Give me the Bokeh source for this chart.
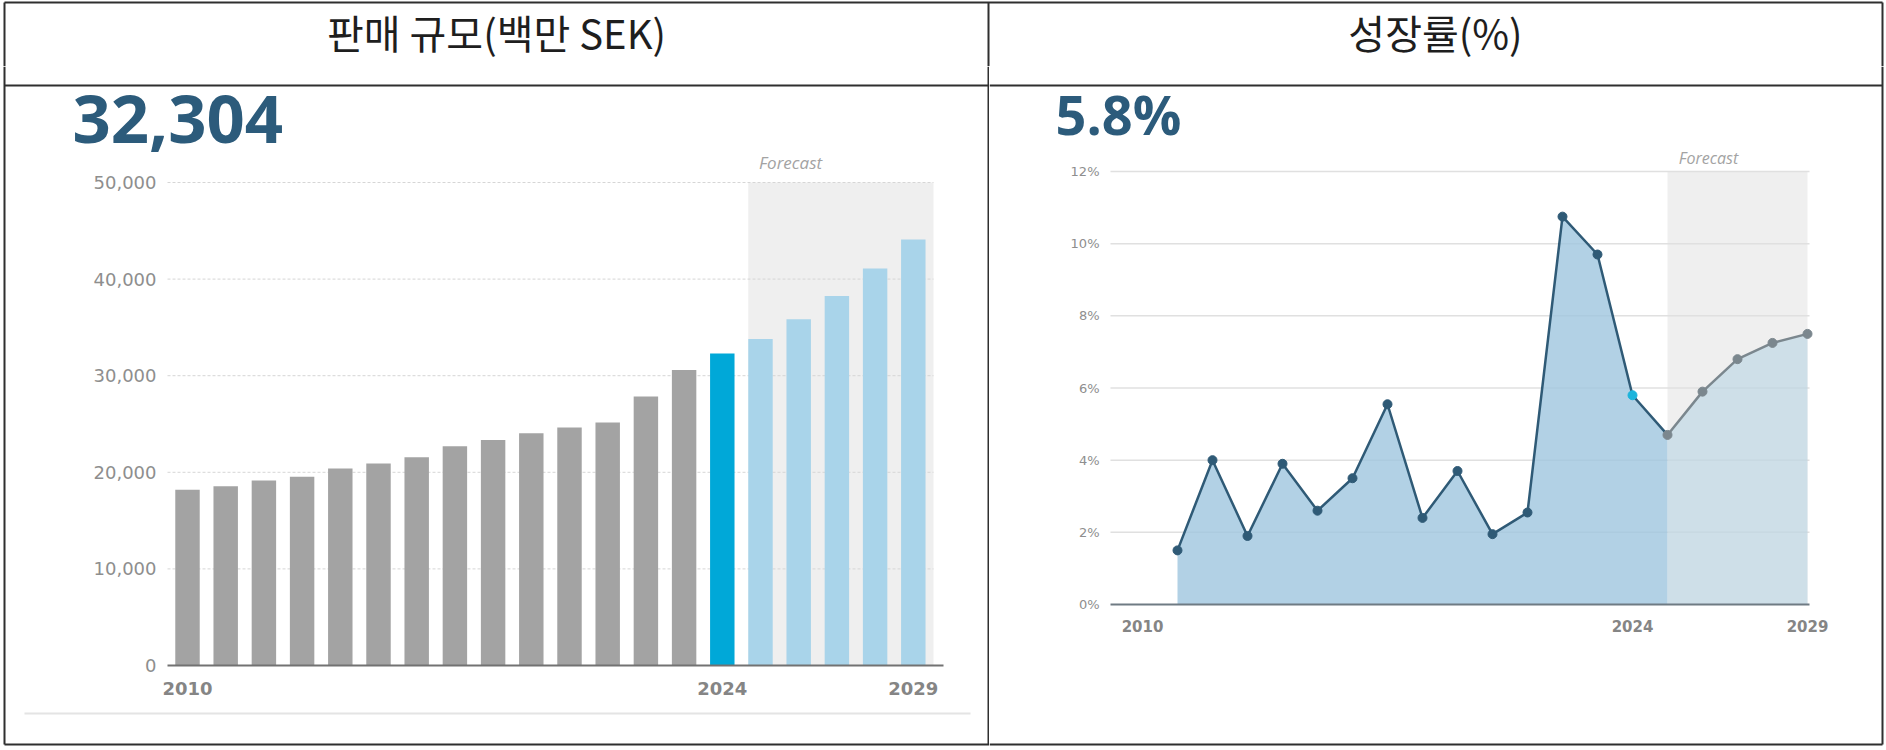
from bokeh.plotting import figure
from bokeh.layouts import column, row
from bokeh.models import Range1d, LinearAxis, FixedTicker, Label
from bokeh.embed import file_html
from bokeh.resources import INLINE

# ---------------- data ----------------
titles = ["판매 규모(백만 SEK)", "성장률(%)"]

sales_years = [2010, 2011, 2012, 2013, 2014, 2015, 2016, 2017, 2018, 2019,
               2020, 2021, 2022, 2023, 2024, 2025, 2026, 2027, 2028, 2029]
sales_values = [18200, 18550, 19150, 19550, 20400, 20900, 21550, 22700, 23350, 24050,
                24650, 25150, 27850, 30600, 32304, 33800, 35850, 38250, 41100, 44100]
sales_headline = "32,304"
sales_yticks = [0, 10000, 20000, 30000, 40000, 50000]
sales_ytick_labels = ["0", "10,000", "20,000", "30,000", "40,000", "50,000"]

growth_years = [2011, 2012, 2013, 2014, 2015, 2016, 2017, 2018, 2019, 2020,
                2021, 2022, 2023, 2024, 2025, 2026, 2027, 2028, 2029]
growth_values = [1.5, 4.0, 1.9, 3.9, 2.6, 3.5, 5.55, 2.4, 3.7, 1.95,
                 2.55, 10.75, 9.7, 5.8, 4.7, 5.9, 6.8, 7.25, 7.5]
growth_headline = "5.8%"
growth_yticks = [0, 2, 4, 6, 8, 10, 12]
growth_ytick_labels = ["0%", "2%", "4%", "6%", "8%", "10%", "12%"]

xtick_years = [2010, 2024, 2029]
xtick_labels = ["2010", "2024", "2029"]
last_actual_year = 2024
forecast_label = "Forecast"

# ---------------- layout / style ----------------
W, H = 1886, 750
HEAD_H = 66
LW = 989
RW = W - LW
CH = H - HEAD_H
SEP_Y = 85

BORDER = "#2f2f2f"
TICK_FONT = "DejaVu Sans"
HEAD_COLOR = "#2c5b7b"


def make_fig(ox, oy, w, h, xref, xpx, kx, yref, ypx, ky):
    fx = lambda px: xref + (px - xpx) / kx
    fy = lambda py: yref + (ypx - py) / ky
    p = figure(width=w, height=h,
               x_range=Range1d(fx(ox), fx(ox + w)),
               y_range=Range1d(fy(oy + h), fy(oy)),
               x_axis_location=None, y_axis_location=None,
               toolbar_location=None, output_backend="svg",
               min_border=0, min_border_left=0, min_border_right=0,
               min_border_top=0, min_border_bottom=0)
    p.outline_line_color = None
    p.background_fill_color = "white"
    p.border_fill_color = "white"
    p.grid.visible = False
    return p, fx, fy


def seg(p, fx, fy, pts, color=BORDER, width=2):
    p.segment(x0=[fx(a[0]) for a in pts], y0=[fy(a[1]) for a in pts],
              x1=[fx(a[2]) for a in pts], y1=[fy(a[3]) for a in pts],
              line_color=color, line_width=width)


# ---------------- header ----------------
ph, hx, hy = make_fig(0, 0, W, HEAD_H, 0, 0, 1, 0, 0, -1)
seg(ph, hx, hy, [(4, 2, 1882, 2), (4, 2, 4, HEAD_H), (1882, 2, 1882, HEAD_H),
                 (988, 2, 988, HEAD_H)])
for t, cx in zip(titles, [496, 1435]):
    ph.add_layout(Label(x=hx(cx), y=hy(31), text=t, text_align="center",
                        text_baseline="middle", text_font="Noto Sans CJK KR",
                        text_font_size="40px", text_color="#1e1e1e"))

# ---------------- left: sales bars ----------------
pl, lx, ly = make_fig(0, HEAD_H, LW, CH, 2010, 187, 38.2, 0, 665, 96.6 / 10000)
seg(pl, lx, ly, [(4, HEAD_H, 4, 744), (4, 744, LW, 744), (988, HEAD_H, 988, 744),
                 (4, SEP_Y, LW, SEP_Y)])

bar_w = 0.64
pl.quad(left=[last_actual_year + 1 - bar_w / 2], right=[lx(933)],
        bottom=[0], top=[sales_yticks[-1]], fill_color="#efefef", line_color=None)

grid_l = sales_yticks[1:]
pl.segment(x0=[lx(167)] * len(grid_l), x1=[lx(933)] * len(grid_l), y0=grid_l, y1=grid_l,
           line_color="#d6d6d6", line_dash="3 2", line_width=1)

bar_colors = ["#a3a3a3" if y < last_actual_year else ("#00a8d8" if y == last_actual_year else "#a9d4ea")
              for y in sales_years]
pl.vbar(x=sales_years, top=sales_values, width=bar_w, fill_color=bar_colors, line_color=None)

seg(pl, lx, ly, [(24, 713, 970, 713)], color="#e4e4e4", width=2)

yax_l = LinearAxis(ticker=FixedTicker(ticks=sales_yticks),
                   major_label_overrides={t: s for t, s in zip(sales_yticks, sales_ytick_labels)},
                   fixed_location=lx(167), axis_line_color=None,
                   major_tick_line_color=None, minor_tick_line_color=None,
                   major_label_standoff=5, major_label_text_font=TICK_FONT,
                   major_label_text_font_size="18px", major_label_text_color="#8e8e8e")
pl.add_layout(yax_l, "left")
xax_l = LinearAxis(ticker=FixedTicker(ticks=xtick_years),
                   major_label_overrides={t: s for t, s in zip(xtick_years, xtick_labels)},
                   fixed_location=0, bounds=(lx(167), lx(943)),
                   axis_line_color="#727272", axis_line_width=2,
                   major_tick_line_color=None, minor_tick_line_color=None,
                   major_label_standoff=10, major_label_text_font=TICK_FONT,
                   major_label_text_font_size="18px", major_label_text_color="#858585",
                   major_label_text_font_style="bold")
pl.add_layout(xax_l, "below")

pl.add_layout(Label(x=lx(72), y=ly(119), text=sales_headline, text_align="left",
                    text_baseline="alphabetic", text_font="Open Sans", text_font_style="bold",
                    text_font_size="67px", text_color=HEAD_COLOR))
pl.add_layout(Label(x=lx(790), y=ly(162), text=forecast_label, text_align="center",
                    text_baseline="middle", text_font="Open Sans", text_font_style="italic",
                    text_font_size="17px", text_color="#a3a3a3"))

# ---------------- right: growth area ----------------
pr, rx, ry = make_fig(LW, HEAD_H, RW, CH, 2010, 1142, 35.0, 0, 604, 36.08)
seg(pr, rx, ry, [(LW, 744, 1882, 744), (1882, HEAD_H, 1882, 744), (LW, SEP_Y, 1882, SEP_Y)])

pr.quad(left=[last_actual_year + 1], right=[growth_years[-1]], bottom=[0],
        top=[growth_yticks[-1]], fill_color="#efefef", line_color=None)
grid_r = growth_yticks[1:]
pr.segment(x0=[rx(1110)] * len(grid_r), x1=[rx(1809)] * len(grid_r), y0=grid_r, y1=grid_r,
           line_color="#e0e0e0", line_width=1.5)

split = growth_years.index(last_actual_year + 1)
hist_x, hist_y = growth_years[:split + 1], growth_values[:split + 1]
fc_x, fc_y = growth_years[split:], growth_values[split:]

pr.varea(x=hist_x, y1=[0] * len(hist_x), y2=hist_y, fill_color="#9fc6de", fill_alpha=0.8)
pr.varea(x=fc_x, y1=[0] * len(fc_x), y2=fc_y, fill_color="#b8d3e3", fill_alpha=0.6)

pr.line(x=hist_x, y=hist_y, line_color="#2f5a76", line_width=2.5)
pr.line(x=fc_x, y=fc_y, line_color="#7b878e", line_width=2.5)

mk_colors = ["#2f5a76" if y < last_actual_year else ("#1cb4dc" if y == last_actual_year else "#7b878e")
             for y in growth_years]
pr.scatter(x=growth_years, y=growth_values, size=9, fill_color=mk_colors, line_color=mk_colors)

yax_r = LinearAxis(ticker=FixedTicker(ticks=growth_yticks),
                   major_label_overrides={t: s for t, s in zip(growth_yticks, growth_ytick_labels)},
                   fixed_location=rx(1110), axis_line_color=None,
                   major_tick_line_color=None, minor_tick_line_color=None,
                   major_label_standoff=5, major_label_text_font=TICK_FONT,
                   major_label_text_font_size="13px", major_label_text_color="#8e8e8e")
pr.add_layout(yax_r, "left")
xax_r = LinearAxis(ticker=FixedTicker(ticks=xtick_years),
                   major_label_overrides={t: s for t, s in zip(xtick_years, xtick_labels)},
                   fixed_location=0, bounds=(rx(1110), rx(1809)),
                   axis_line_color="#6f7b83", axis_line_width=2,
                   major_tick_line_color=None, minor_tick_line_color=None,
                   major_label_standoff=9, major_label_text_font=TICK_FONT,
                   major_label_text_font_size="15px", major_label_text_color="#858585",
                   major_label_text_font_style="bold")
pr.add_layout(xax_r, "below")

pr.add_layout(Label(x=rx(1055), y=ry(113), text=growth_headline, text_align="left",
                    text_baseline="alphabetic", text_font="Open Sans", text_font_style="bold",
                    text_font_size="54px", text_color=HEAD_COLOR))
pr.add_layout(Label(x=rx(1708), y=ry(157), text=forecast_label, text_align="center",
                    text_baseline="middle", text_font="Open Sans", text_font_style="italic",
                    text_font_size="16px", text_color="#a3a3a3"))

layout = column(ph, row(pl, pr, spacing=0), spacing=0)
open("out.html", "w").write(file_html(layout, INLINE))
